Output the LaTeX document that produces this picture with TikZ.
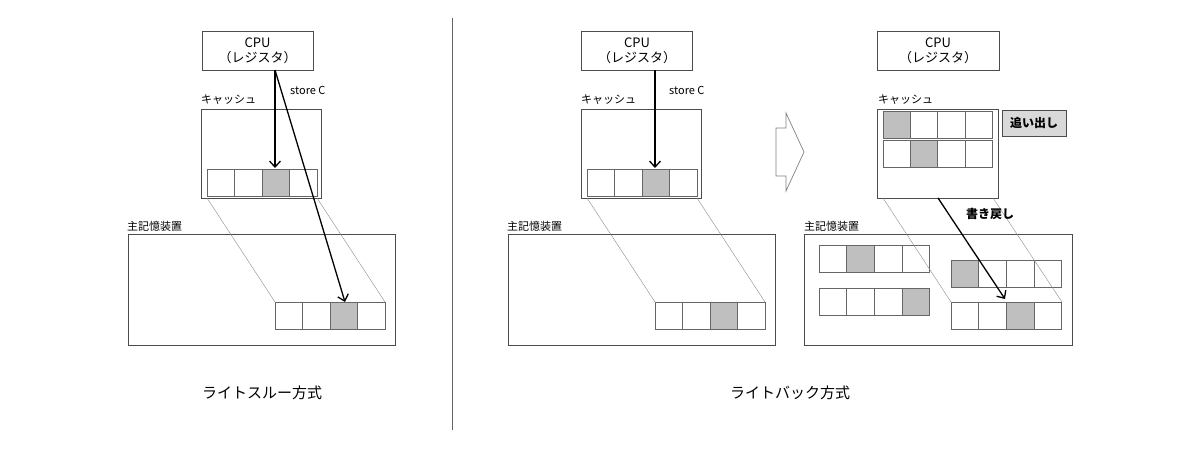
\documentclass[tikz,border=0pt]{standalone}
\usepackage{fontspec}
\setmainfont{Noto Sans CJK JP}
\usetikzlibrary{arrows.meta}
\newcommand\myrow[4]{% x, y, width per cell, shaded index
  \foreach \i in {1,...,4}{
    \pgfmathsetmacro\xx{#1+(\i-1)*#3}
    \ifnum\i=#4 \def\fc{gray!50}\else\def\fc{white}\fi
    \draw[cell,fill=\fc] (\xx,#2) rectangle ++(#3,27);
  }}
\begin{document}
\begin{tikzpicture}[x=1pt,y=-1pt,
  box/.style={draw=black!70,line width=0.8pt},
  cell/.style={draw=black!60,line width=0.7pt},
  guide/.style={draw=black!45,line width=0.4pt},
  arr/.style={-{Straight Barb[length=6pt,width=11pt]},line width=1.3pt},
  lbl/.style={font=\fontsize{11}{12}\selectfont,inner sep=0pt},
  cpu/.style={box,minimum width=111pt,minimum height=39pt,align=center,font=\fontsize{13}{15}\selectfont,inner sep=0pt},
  title/.style={font=\fontsize{15}{17}\selectfont,inner sep=0pt}]
\useasboundingbox (0,0) rectangle (1200,449);
% ===== Left: write-through
\node[cpu] (cpu1) at (257.5,50.5) {CPU\\（レジスタ）};
\node[lbl,anchor=west] (cl1) at (201,100) {キャッシュ};
\draw[box] (201,109) rectangle (321,198);
\node[lbl,anchor=west] (sc1) at (290,90) {store C};
\myrow{207}{169}{27.5}{3}
\node[lbl,anchor=west] (ml1) at (127,226) {主記憶装置};
\draw[box] (128,234) rectangle (395,345);
\myrow{275}{302}{27.5}{3}
\draw[guide] (207,198) -- (275,302);
\draw[guide] (317,198) -- (385,302);
\coordinate (s1) at (275,70);
\coordinate (t1) at (275,168);
\coordinate (t2) at (345,302);
\draw[arr] (s1) -- (t1);
\draw[arr] (s1) -- (t2);
\node[title] (ti1) at (262,393) {ライトスルー方式};
% divider
\coordinate (d1) at (452,18); \coordinate (d2) at (452,430);
\draw[black!60,line width=0.7pt] (d1) -- (d2);
% ===== Right step 1
\node[cpu] (cpu2) at (637,50.5) {CPU\\（レジスタ）};
\node[lbl,anchor=west] (cl2) at (581,100) {キャッシュ};
\draw[box] (581,109) rectangle (701,198);
\node[lbl,anchor=west] (sc2) at (669,90) {store C};
\myrow{587}{169}{27.5}{3}
\node[lbl,anchor=west] (ml2) at (507,226) {主記憶装置};
\draw[box] (508,234) rectangle (775,345);
\myrow{655}{302}{27.5}{3}
\draw[guide] (587,198) -- (655,302);
\draw[guide] (697,198) -- (765,302);
\coordinate (s2) at (655,70);
\coordinate (t3) at (655,168);
\draw[arr] (s2) -- (t3);
% hollow arrow
\draw[black!50,line width=0.7pt,fill=white] (776,128) -- (786,128) -- (786,113) -- (804,152) -- (786,191) -- (786,176) -- (776,176) -- cycle;
\node[title] (ti2) at (790,393) {ライトバック方式};
% ===== Right step 2
\node[cpu,minimum width=122pt] (cpu3) at (938,50.5) {CPU\\（レジスタ）};
\node[lbl,anchor=west] (cl3) at (878,100) {キャッシュ};
\draw[box] (877,109) rectangle (998,198);
\myrow{883}{111}{27.3}{1}
\myrow{883}{140}{27.3}{2}
\node[box,fill=black!15,minimum width=64pt,minimum height=26pt,inner sep=0pt,font=\fontsize{12}{14}\selectfont\bfseries] (oi) at (1034,123) {追い出し};
\node[lbl,anchor=west] (ml3) at (804,226) {主記憶装置};
\draw[box] (804,234) rectangle (1072,345);
\myrow{819}{245}{27.7}{2}
\myrow{819}{288}{27.7}{4}
\myrow{951}{260}{27.7}{1}
\myrow{951}{302}{27.7}{3}
\draw[guide] (883,198) -- (951,302);
\draw[guide] (993,198) -- (1062,302);
\coordinate (s3) at (938,198);
\coordinate (t4) at (1005,299);
\draw[arr] (s3) -- (t4);
\node[lbl,font=\fontsize{12}{14}\selectfont\bfseries] (wb) at (990,214) {書き戻し};
\end{tikzpicture}
\end{document}
